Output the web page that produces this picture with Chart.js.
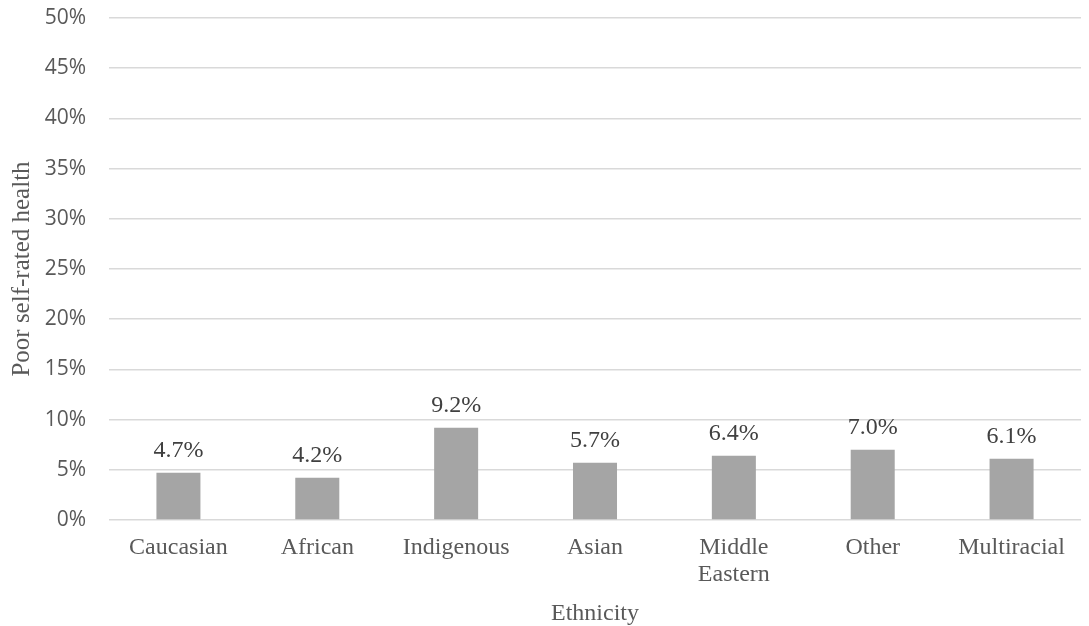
<!DOCTYPE html>
<html>
<head>
<meta charset="utf-8">
<script src="https://cdn.jsdelivr.net/npm/chart.js@4.4.1/dist/chart.umd.min.js"></script>
<style>
html,body{margin:0;padding:0;background:#fff;}
#wrap{width:1089px;height:626px;}
</style>
</head>
<body>
<div id="wrap"><canvas id="c" width="1089" height="626"></canvas></div>
<script>
const categories = ['Caucasian', 'African', 'Indigenous', 'Asian', ['Middle', 'Eastern'], 'Other', 'Multiracial'];
const poorHealth = [4.7, 4.2, 9.2, 5.7, 6.4, 7.0, 6.1];
const valueLabels = ['4.7%', '4.2%', '9.2%', '5.7%', '6.4%', '7.0%', '6.1%'];
const yTickLabels = ['0%', '5%', '10%', '15%', '20%', '25%', '30%', '35%', '40%', '45%', '50%'];
const xTitle = 'Ethnicity';
const yTitle = 'Poor self-rated health';

const valueLabelPlugin = {
  id: 'valueLabels',
  afterDatasetsDraw(chart) {
    const ctx = chart.ctx;
    const meta = chart.getDatasetMeta(0);
    ctx.save();
    ctx.font = '24px "Liberation Serif", "Times New Roman", serif';
    ctx.fillStyle = '#404040';
    ctx.textAlign = 'center';
    ctx.textBaseline = 'alphabetic';
    meta.data.forEach((bar, i) => {
      ctx.fillText(valueLabels[i], bar.x, bar.y - 16);
    });
    ctx.restore();
  }
};

new Chart(document.getElementById('c'), {
  type: 'bar',
  data: {
    labels: categories,
    datasets: [{
      data: poorHealth,
      backgroundColor: '#a5a5a5',
      borderWidth: 0,
      barPercentage: 0.317,
      categoryPercentage: 1.0
    }]
  },
  options: {
    responsive: false,
    devicePixelRatio: 1,
    animation: false,
    layout: { padding: { top: 18, right: 8, bottom: 0, left: 0 } },
    plugins: { legend: { display: false }, tooltip: { enabled: false }, title: { display: false } },
    scales: {
      x: {
        grid: { display: false, drawTicks: false },
        border: { display: false },
        ticks: {
          color: '#595959',
          padding: 14,
          maxRotation: 0,
          autoSkip: false,
          font: { family: '"Liberation Serif", "Times New Roman", serif', size: 24, lineHeight: 1.125 }
        },
        title: {
          display: true,
          text: xTitle,
          color: '#595959',
          padding: { top: 0, bottom: 0 },
          font: { family: '"Liberation Serif", "Times New Roman", serif', size: 24, lineHeight: 1.0 }
        },
        afterFit(s) { s.height = 106; s.paddingLeft = 0; s.paddingRight = 0; }
      },
      y: {
        min: 0,
        max: 50,
        grid: { color: '#d9d9d9', lineWidth: 1.5, drawTicks: false },
        border: { display: false },
        ticks: {
          stepSize: 5,
          color: '#595959',
          padding: 23,
          font: { family: '"Open Sans", sans-serif', size: 21 },
          callback: (v, i) => yTickLabels[i]
        },
        title: {
          display: true,
          text: yTitle,
          color: '#595959',
          padding: { top: 7, bottom: 0 },
          font: { family: '"Liberation Serif", "Times New Roman", serif', size: 25, lineHeight: 1.2 }
        },
        afterFit(s) { s.width = 109; s.paddingTop = 0; s.paddingBottom = 0; }
      }
    }
  },
  plugins: [valueLabelPlugin]
});
</script>
</body>
</html>
